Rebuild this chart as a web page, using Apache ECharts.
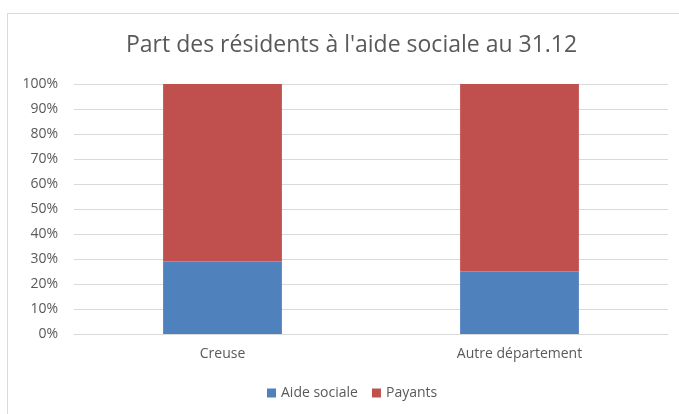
<!DOCTYPE html>
<html>
<head>
<meta charset="utf-8">
<script src="https://cdn.jsdelivr.net/npm/echarts@6/dist/echarts.min.js"></script>
<style>
  html, body { margin: 0; padding: 0; background: #fff; }
  #frame { position: absolute; left: 7px; top: 13px; width: 690px; height: 410px; border: 1px solid #d9d9d9; box-sizing: border-box; }
  #chart { width: 679px; height: 414px; }
</style>
</head>
<body>
<div id="frame"></div>
<div id="chart"></div>
<script>
var categories = ["Creuse", "Autre département"];
var aideSociale = [29, 25];
var payants = [71, 75];
var yTicks = [0, 10, 20, 30, 40, 50, 60, 70, 80, 90, 100];

var myChart = echarts.init(document.getElementById("chart"));
var option = {
  animation: false,
  title: {
    left: 121,
    top: 29,
    text: "Part des résidents à l'aide sociale au 31.12",
    textStyle: {
      fontFamily: "Open Sans",
      fontSize: 23,
      fontWeight: "normal",
      color: "#595959",
    },
  },
  legend: {
    bottom: 9,
    left: 262,
    itemWidth: 9,
    itemHeight: 9,
    itemGap: 14,
    icon: "rect",
    textStyle: { fontFamily: "Open Sans", fontSize: 14, color: "#595959" },
    data: ["Aide sociale", "Payants"],
  },
  grid: {
    left: 74,
    right: 11,
    top: 84,
    bottom: 80,
  },
  xAxis: {
    type: "category",
    data: categories,
    axisLine: { lineStyle: { color: "#d9d9d9" } },
    axisTick: { show: false },
    axisLabel: { fontFamily: "Open Sans", fontSize: 14, color: "#595959", margin: 13 },
  },
  yAxis: {
    type: "value",
    min: yTicks[0],
    max: yTicks[yTicks.length - 1],
    interval: 10,
    axisLabel: {
      fontFamily: "Open Sans",
      fontSize: 14,
      color: "#595959",
      margin: 16,
      formatter: "{value}%",
    },
    splitLine: { lineStyle: { color: "#d9d9d9" } },
  },
  series: [
    {
      name: "Aide sociale",
      type: "bar",
      stack: "total",
      barWidth: "40%",
      data: aideSociale,
      itemStyle: { color: "#4f81bd" },
    },
    {
      name: "Payants",
      type: "bar",
      stack: "total",
      data: payants,
      itemStyle: { color: "#c0504d" },
    },
  ],
};
myChart.setOption(option);
</script>
</body>
</html>
